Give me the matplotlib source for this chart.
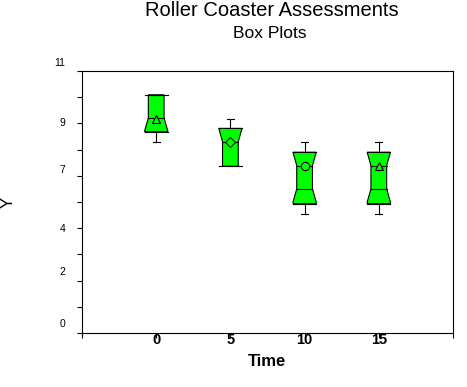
import numpy as np
import matplotlib
matplotlib.use('Agg')
import matplotlib.pyplot as plt
import matplotlib.transforms as mtransforms
from matplotlib.patches import Polygon


# Box plot summary
times = [0, 5, 10, 15]
whisker_low = [8.0, 7.0, 5.0, 5.0]
q1 = [8.45, 7.0, 5.43, 5.43]
notch_low = [9.03, 7.0, 6.05, 6.05]
notch_high = [10.0, 8.03, 7.03, 7.03]
q3 = [10.0, 8.59, 7.59, 7.59]
whisker_high = [10.0, 9.0, 8.0, 8.0]
means = [9.0, 8.0, 7.0, 7.0]
mean_markers = ['^', 'D', 'o', '^']

x_ticks = [-5, 0, 5, 10, 15, 20]
x_tick_labels = ['', '0', '5', '10', '15', '']
y_ticks = np.linspace(0, 11, 11)        # 0, 1.1, 2.2 ... 11
y_label_shift = [7, 7, 0.5, 5, 1, 6.5]  # the old chart draws some labels a bit high (pt)

BOX_GREEN = '#00ff00'
HALF_WIDE = 0.78
HALF_NARROW = 0.53
HALF_CAP = 0.24
TAPER = 0.55
LW = 0.8

plt.rcParams['font.family'] = ['Liberation Sans', 'DejaVu Sans']


'''
Half width of the notched box at height y
'''
def half_width(y, lo, hi):
    if y < lo:
        d = lo - y
    elif y > hi:
        d = y - hi
    else:
        return HALF_NARROW
    frac = min(d / TAPER, 1.0)
    return HALF_NARROW + frac * (HALF_WIDE - HALF_NARROW)


def draw_box(ax, i):
    x = times[i]
    lo, hi = notch_low[i], notch_high[i]
    levels = [q1[i], lo - TAPER, lo, hi, hi + TAPER, q3[i]]
    levels = sorted(set(min(max(v, q1[i]), q3[i]) for v in levels))

    right = [(x + half_width(y, lo, hi), y) for y in levels]
    left = [(x - half_width(y, lo, hi), y) for y in reversed(levels)]
    ax.add_patch(Polygon(right + left, closed=True, facecolor=BOX_GREEN,
                         edgecolor='black', lw=LW, zorder=2))

    # whiskers
    ax.plot([x, x], [q3[i], whisker_high[i]], color='black', lw=LW, zorder=1)
    ax.plot([x, x], [q1[i], whisker_low[i]], color='black', lw=LW, zorder=1)
    for w in (whisker_low[i], whisker_high[i]):
        ax.plot([x - HALF_CAP, x + HALF_CAP], [w, w], color='black', lw=LW, zorder=3)

    # full width quartile lines
    for q in (q1[i], q3[i]):
        ax.plot([x - HALF_WIDE, x + HALF_WIDE], [q, q], color='black', lw=LW, zorder=3)

    # lines across the narrow part
    for n in (lo, hi):
        if q1[i] < n < q3[i]:
            ax.plot([x - HALF_NARROW, x + HALF_NARROW], [n, n], color='black', lw=LW, zorder=3)

    size = 5 if mean_markers[i] == 'D' else 6
    ax.plot(x, means[i], marker=mean_markers[i], ms=size, mfc=BOX_GREEN,
            mec='black', mew=LW, zorder=4)


def main():
    fig = plt.figure(figsize=(4.67, 3.87), dpi=100)
    ax = fig.add_axes([82 / 467, 54 / 387, 371 / 467, 262 / 387])

    for i in range(len(times)):
        draw_box(ax, i)

    ax.set_xlim(-5, 20)
    ax.set_ylim(0, 11)

    ax.set_xticks(x_ticks)
    ax.set_xticklabels(x_tick_labels, fontsize=10.5, fontweight='bold')
    ax.set_yticks(y_ticks[::2])
    ax.set_yticklabels(['%.0f' % v for v in y_ticks[::2]], fontsize=7.5)
    ax.set_yticks(y_ticks[1::2], minor=True)

    ax.tick_params(axis='x', direction='out', length=3.6, width=LW, pad=-3.5)
    ax.tick_params(axis='y', which='both', direction='out', length=3.6, width=LW, pad=8.6)
    for spine in ax.spines.values():
        spine.set_linewidth(LW)

    for tick, dy in zip(ax.yaxis.get_major_ticks(), y_label_shift):
        offset = mtransforms.ScaledTranslation(0, dy / 72, fig.dpi_scale_trans)
        tick.label1.set_transform(tick.label1.get_transform() + offset)

    ax.set_xlabel('Time', fontsize=12, fontweight='bold', labelpad=5)

    fig.text(272 / 467, 1 - 10 / 387, 'Roller Coaster Assessments',
             fontsize=14.5, ha='center', va='center')
    fig.text(270 / 467, 1 - 33.5 / 387, 'Box Plots',
             fontsize=12.5, ha='center', va='center')
    fig.text(8 / 467, 1 - 202.5 / 387, 'Y', fontsize=12, rotation=90,
             ha='center', va='center')

    fig.savefig('out.png', dpi=100)
    plt.close(fig)


if __name__ == '__main__':
    main()
